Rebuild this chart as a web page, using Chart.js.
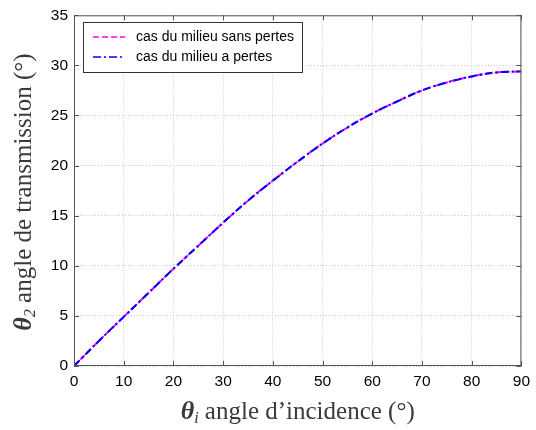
<!DOCTYPE html>
<html>
<head>
<meta charset="utf-8">
<script src="https://cdn.jsdelivr.net/npm/chart.js@4/dist/chart.umd.min.js"></script>
<style>
  html, body { margin: 0; padding: 0; background: #fff; }
  #wrap { width: 536px; height: 430px; }
</style>
</head>
<body>
<div id="wrap"><canvas id="chart" width="536" height="430"></canvas></div>
<script>
// incidence angle (deg)
const incidence = [0, 5, 10, 15, 20, 25, 30, 35, 40, 45, 50, 55, 60, 65, 70, 75, 80, 85, 90];
// transmission angle, lossless medium
const lossless = [0, 2.5, 4.9, 7.3, 9.7, 12.0, 14.3, 16.5, 18.5, 20.4, 22.2, 23.8, 25.2, 26.4, 27.5, 28.3, 28.9, 29.3, 29.4];
// transmission angle, lossy medium
const lossy = [0, 2.5, 4.9, 7.3, 9.7, 12.0, 14.3, 16.5, 18.5, 20.4, 22.2, 23.8, 25.2, 26.4, 27.5, 28.3, 28.9, 29.3, 29.4];
const seriesLabels = ['cas du milieu sans pertes', 'cas du milieu a pertes'];
const xTicks = [0, 10, 20, 30, 40, 50, 60, 70, 80, 90];
const yTicks = [0, 5, 10, 15, 20, 25, 30, 35];

const toPoints = (ys) => incidence.map((x, i) => ({ x: x, y: ys[i] }));

// box, inward ticks, legend and the mixed-font axis titles
const decorations = {
    id: 'decorations',
    afterDraw(chart) {
        const ctx = chart.ctx;
        const a = chart.chartArea;
        const xs = chart.scales.x, ys = chart.scales.y;
        ctx.save();
        ctx.strokeStyle = '#555';
        ctx.lineWidth = 1;
        ctx.strokeRect(a.left + 0.5, a.top + 0.5, a.right - a.left - 1, a.bottom - a.top - 1);
        ctx.beginPath();
        xTicks.forEach(v => {
            const px = Math.round(xs.getPixelForValue(v)) + 0.5;
            ctx.moveTo(px, a.bottom); ctx.lineTo(px, a.bottom - 5);
            ctx.moveTo(px, a.top); ctx.lineTo(px, a.top + 5);
        });
        yTicks.forEach(v => {
            const py = Math.round(ys.getPixelForValue(v)) + 0.5;
            ctx.moveTo(a.left, py); ctx.lineTo(a.left + 5, py);
            ctx.moveTo(a.right, py); ctx.lineTo(a.right - 5, py);
        });
        ctx.stroke();

        // legend
        const lx = 83, ly = 22, lw = 219, lh = 50;
        ctx.fillStyle = '#fff';
        ctx.fillRect(lx, ly, lw, lh);
        ctx.strokeStyle = '#333';
        ctx.strokeRect(lx + 0.5, ly + 0.5, lw, lh);
        ctx.font = '14px "Liberation Sans", Arial, sans-serif';
        ctx.textBaseline = 'middle';
        chart.data.datasets.forEach((ds, i) => {
            const yy = ly + 15 + i * 20;
            ctx.strokeStyle = ds.borderColor;
            ctx.lineWidth = 1.5;
            ctx.setLineDash(ds.borderDash);
            ctx.beginPath();
            ctx.moveTo(lx + 10, yy); ctx.lineTo(lx + 42, yy);
            ctx.stroke();
            ctx.setLineDash([]);
            ctx.fillStyle = '#000';
            ctx.fillText(ds.label, lx + 53, yy);
        });

        // x title
        ctx.fillStyle = '#3a3a3a';
        ctx.textBaseline = 'alphabetic';
        const serif = '"Liberation Serif", "DejaVu Serif", serif';
        const xt = ' angle d\u2019incidence (\u00b0)';
        ctx.font = '25px ' + serif;
        const w1 = ctx.measureText(xt).width;
        ctx.font = 'italic bold 26px ' + serif;
        const wTheta = ctx.measureText('\u03b8').width;
        ctx.font = 'italic 16px ' + serif;
        const wSub = ctx.measureText('i').width;
        let x0 = (a.left + a.right) / 2 - (w1 + wTheta + wSub) / 2;
        const by = 419;
        ctx.font = 'italic bold 26px ' + serif;
        ctx.fillText('\u03b8', x0, by);
        ctx.font = 'italic 16px ' + serif;
        ctx.fillText('i', x0 + wTheta, by + 4);
        ctx.font = '25px ' + serif;
        ctx.fillText(xt, x0 + wTheta + wSub, by);

        // y title
        const yt = ' angle de transmission (\u00b0)';
        ctx.font = '25px ' + serif;
        const w2 = ctx.measureText(yt).width;
        ctx.font = 'italic 16px ' + serif;
        const wSub2 = ctx.measureText('2').width;
        ctx.translate(31, 192);
        ctx.rotate(-Math.PI / 2);
        let y0 = -(w2 + wTheta + wSub2) / 2;
        ctx.font = 'italic bold 26px ' + serif;
        ctx.fillText('\u03b8', y0, 0);
        ctx.font = 'italic 16px ' + serif;
        ctx.fillText('2', y0 + wTheta, 4);
        ctx.font = '25px ' + serif;
        ctx.fillText(yt, y0 + wTheta + wSub2, 0);
        ctx.restore();
    }
};

const tickFont = { family: '"Liberation Sans", Arial, sans-serif', size: 15.5 };
const gridStyle = { color: '#c8c8c8', lineWidth: 1, drawTicks: false };
const gridBorder = { display: false, dash: [1, 2] };

new Chart(document.getElementById('chart').getContext('2d'), {
    type: 'line',
    data: {
        datasets: [{
            label: seriesLabels[0],
            data: toPoints(lossless),
            borderColor: '#ff00ff',
            borderWidth: 2,
            borderDash: [6, 3],
            pointRadius: 0,
            tension: 0.4,
            order: 2
        }, {
            label: seriesLabels[1],
            data: toPoints(lossy),
            borderColor: '#0000ff',
            borderWidth: 2,
            borderDash: [8, 3, 2, 3],
            pointRadius: 0,
            tension: 0.4,
            order: 1
        }]
    },
    options: {
        responsive: false,
        animation: false,
        layout: { padding: { left: 0, top: 13, right: 14, bottom: 0 } },
        plugins: { legend: { display: false }, tooltip: { enabled: false } },
        scales: {
            x: {
                type: 'linear', min: 0, max: 90,
                afterBuildTicks: (s) => { s.ticks = xTicks.map(v => ({ value: v })); },
                afterFit: (s) => { s.height = 64; },
                grid: gridStyle,
                border: gridBorder,
                ticks: { font: tickFont, color: '#000', padding: 6, maxRotation: 0 }
            },
            y: {
                type: 'linear', min: 0, max: 35,
                afterBuildTicks: (s) => { s.ticks = yTicks.map(v => ({ value: v })); },
                afterFit: (s) => { s.width = 74; },
                grid: gridStyle,
                border: gridBorder,
                ticks: { font: tickFont, color: '#000', padding: 6 }
            }
        }
    },
    plugins: [decorations]
});
</script>
</body>
</html>
